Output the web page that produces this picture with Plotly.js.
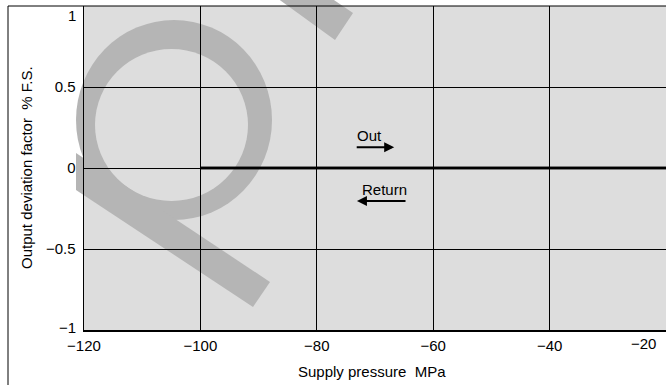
<!DOCTYPE html>
<html>
<head>
<meta charset="utf-8">
<script src="https://cdn.plot.ly/plotly-3.0.1.min.js"></script>
<style>
  html, body { margin: 0; padding: 0; background: #ffffff; }
  #chart { width: 666px; height: 385px; }
</style>
</head>
<body>
<div id="chart"></div>
<script>
// Output deviation vs. supply pressure, outgoing and return sweeps
const pressure = [-100, -80, -60, -40, -20];
const outDeviation = [0, 0, 0, 0, 0];
const returnDeviation = [0, 0, 0, 0, 0];

const xTicks = [-120, -100, -80, -60, -40, -20];
const yTicks = [-1, -0.5, 0, 0.5, 1];
const xRange = [-120, -20];
const yRange = [-1, 1];

const xTitle = 'Supply pressure  MPa';
const yTitle = 'Output deviation factor  % F.S.';

const FONT = 'Liberation Sans, Arial, Helvetica, sans-serif';
const PLOT_BG = '#dddddd';
const MARK_GRAY = '#b5b5b5';

// plot area in pixels
const W = 666, H = 385;
const M = { l: 84, r: 0, t: 6, b: 55 };
const PW = W - M.l - M.r, PH = H - M.t - M.b;
// pixel -> paper helpers for decorative shapes
const px = v => (v - M.l) / PW;
const py = v => (H - M.b - v) / PH;

const fmt = v => (v < 0 ? '\u2212' : '') + Math.abs(v);

const traces = [
  { x: pressure, y: outDeviation, name: 'Out', mode: 'lines',
    line: { color: '#000000', width: 2.5 }, hoverinfo: 'skip' },
  { x: pressure, y: returnDeviation, name: 'Return', mode: 'lines',
    line: { color: '#000000', width: 2.5 }, hoverinfo: 'skip' }
];

// big grey "Q" mark behind the grid
const polyPath = pts => 'M' + pts.map(p => px(p[0]) + ',' + py(p[1])).join(' L') + ' Z';
const shapes = [
  { type: 'rect', xref: 'paper', yref: 'paper', x0: 0, x1: 1, y0: 0, y1: 1,
    fillcolor: PLOT_BG, line: { width: 0 }, layer: 'below' },
  { type: 'circle', xref: 'paper', yref: 'paper',
    x0: px(76), x1: px(272), y0: py(220), y1: py(20),
    fillcolor: MARK_GRAY, line: { width: 0 }, layer: 'below' },
  { type: 'circle', xref: 'paper', yref: 'paper',
    x0: px(95), x1: px(248), y0: py(201), y1: py(49),
    fillcolor: PLOT_BG, line: { width: 0 }, layer: 'below' },
  { type: 'path', xref: 'paper', yref: 'paper',
    path: polyPath([[76, 153], [270, 282], [253, 307], [76, 190]]),
    fillcolor: MARK_GRAY, line: { width: 0 }, layer: 'below' },
  { type: 'path', xref: 'paper', yref: 'paper',
    path: polyPath([[277, -2], [335, 40], [353, 13], [331, -2]]),
    fillcolor: MARK_GRAY, line: { width: 0 }, layer: 'below' },
  // outer frame
  { type: 'rect', xref: 'paper', yref: 'paper',
    x0: px(8), x1: px(672), y0: py(392), y1: py(6),
    fillcolor: 'rgba(0,0,0,0)', line: { color: '#000000', width: 1 }, layer: 'above' }
];

const txt = { family: FONT, size: 15, color: '#000000' };
const annotations = [
  // sweep direction arrows
  { x: -66.7, y: 0.128, ax: -73.4, ay: 0.128, xref: 'x', yref: 'y', axref: 'x', ayref: 'y',
    text: '', showarrow: true, arrowhead: 2, arrowsize: 1, arrowwidth: 2, arrowcolor: '#000000' },
  { x: -71.0, y: 0.2, xref: 'x', yref: 'y', text: 'Out', showarrow: false, font: txt,
    xanchor: 'center', yanchor: 'middle' },
  { x: -73.1, y: -0.204, ax: -64.5, ay: -0.204, xref: 'x', yref: 'y', axref: 'x', ayref: 'y',
    text: '', showarrow: true, arrowhead: 2, arrowsize: 1, arrowwidth: 2, arrowcolor: '#000000' },
  { x: -68.45, y: -0.13, xref: 'x', yref: 'y', text: 'Return', showarrow: false, font: txt,
    xanchor: 'center', yanchor: 'middle' },
  // end tick labels kept inside the frame
  { x: 0, y: yTicks[yTicks.length - 1], xref: 'paper', yref: 'y', text: fmt(yTicks[yTicks.length - 1]),
    showarrow: false, font: txt, xanchor: 'right', yanchor: 'middle', xshift: -6, yshift: -9 },
  { x: 0, y: yTicks[0], xref: 'paper', yref: 'y', text: fmt(yTicks[0]),
    showarrow: false, font: txt, xanchor: 'right', yanchor: 'middle', xshift: -6, yshift: 3 },
  { x: xTicks[xTicks.length - 1], y: 0, xref: 'x', yref: 'paper', text: fmt(xTicks[xTicks.length - 1]),
    showarrow: false, font: txt, xanchor: 'right', yanchor: 'top', xshift: -8, yshift: -3 },
  // axis titles
  { x: 0.4957, y: py(372), xref: 'paper', yref: 'paper', text: xTitle, showarrow: false,
    font: txt, xanchor: 'center', yanchor: 'middle' },
  { x: px(26), y: 0.5, xref: 'paper', yref: 'paper', text: yTitle, showarrow: false,
    font: txt, textangle: -90, xanchor: 'center', yanchor: 'middle' }
];

const xTickVals = xTicks.slice(0, -1);
const layout = {
  width: W, height: H,
  margin: M,
  paper_bgcolor: '#ffffff',
  plot_bgcolor: 'rgba(0,0,0,0)',
  showlegend: false,
  font: txt,
  xaxis: {
    range: xRange, tickvals: xTickVals, ticktext: xTickVals.map(fmt),
    showgrid: true, gridcolor: '#000000', gridwidth: 1,
    showline: true, linecolor: '#000000', linewidth: 2,
    zeroline: false, ticks: '', ticklabelstandoff: 1,
    tickfont: txt, fixedrange: true
  },
  yaxis: {
    range: yRange, tickvals: yTicks,
    ticktext: yTicks.map((v, i) => (i === 0 || i === yTicks.length - 1) ? '' : fmt(v)),
    showgrid: true, gridcolor: '#000000', gridwidth: 1,
    showline: true, linecolor: '#000000', linewidth: 1.5,
    zeroline: false, ticks: '', ticklabelstandoff: 4,
    tickfont: txt, fixedrange: true
  },
  shapes: shapes,
  annotations: annotations
};

Plotly.newPlot('chart', traces, layout, { staticPlot: true, displayModeBar: false });
</script>
</body>
</html>
